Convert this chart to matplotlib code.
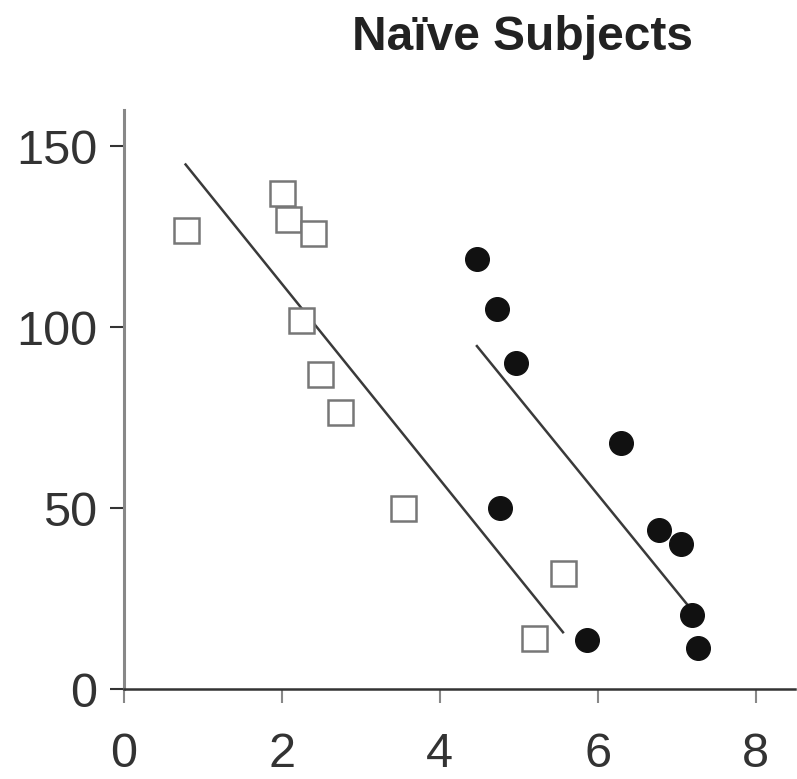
import matplotlib
matplotlib.use("Agg")
import matplotlib.pyplot as plt
import numpy as np

# open squares
sq_x = [0.78, 2.00, 2.08, 2.39, 2.24, 2.48, 2.73, 3.54, 5.56, 5.19]
sq_y = [127, 137, 130, 126, 102, 87, 76.5, 50, 32, 14]

# filled circles
ci_x = [4.47, 4.73, 4.96, 6.29, 6.78, 7.06, 7.20, 7.27, 4.76, 5.86]
ci_y = [119, 105, 90, 68, 44, 40, 20.5, 11.3, 50, 13.5]

# fitted lines (end points)
fit1_x = [0.78, 5.56]
fit1_y = [145, 15.7]
fit2_x = [4.47, 7.14]
fit2_y = [94.8, 23.2]

xticks = [0, 2, 4, 6, 8]
yticks = [0, 50, 100, 150]

plt.rcParams['font.family'] = ['Liberation Sans', 'DejaVu Sans']

fig = plt.figure(figsize=(7.97, 7.79), dpi=100)
ax = fig.add_axes([0.1556, 0.1155, 0.842, 0.743])

ax.plot(fit1_x, fit1_y, color='#3a3a3a', lw=1.8)
ax.plot(fit2_x, fit2_y, color='#3a3a3a', lw=1.8)
ax.plot(sq_x, sq_y, 's', ms=18, mfc='white', mec='#777777', mew=1.8, ls='none')
ax.plot(ci_x, ci_y, 'o', ms=17, mfc='#111111', mec='#111111', ls='none')

ax.set_xlim(0, 8.5)
ax.set_ylim(0, 160)
ax.set_xticks(xticks)
ax.set_yticks(yticks)
ax.spines['top'].set_visible(False)
ax.spines['right'].set_visible(False)
ax.spines['left'].set_color('#888888')
ax.spines['left'].set_linewidth(2.2)
ax.spines['bottom'].set_color('#333333')
ax.spines['bottom'].set_linewidth(1.8)
ax.tick_params(axis='x', direction='out', length=10, width=1.5, colors='#888888',
               labelcolor='#333333', labelsize=35, pad=21)
ax.tick_params(axis='y', direction='out', length=10, width=1.5, colors='#333333',
               labelcolor='#333333', labelsize=35, pad=9)

fig.text(0.655, 0.952, 'Naïve Subjects', ha='center', va='center',
         fontsize=34.5, fontweight='bold', color='#222222')

fig.savefig('out.png', dpi=100)
